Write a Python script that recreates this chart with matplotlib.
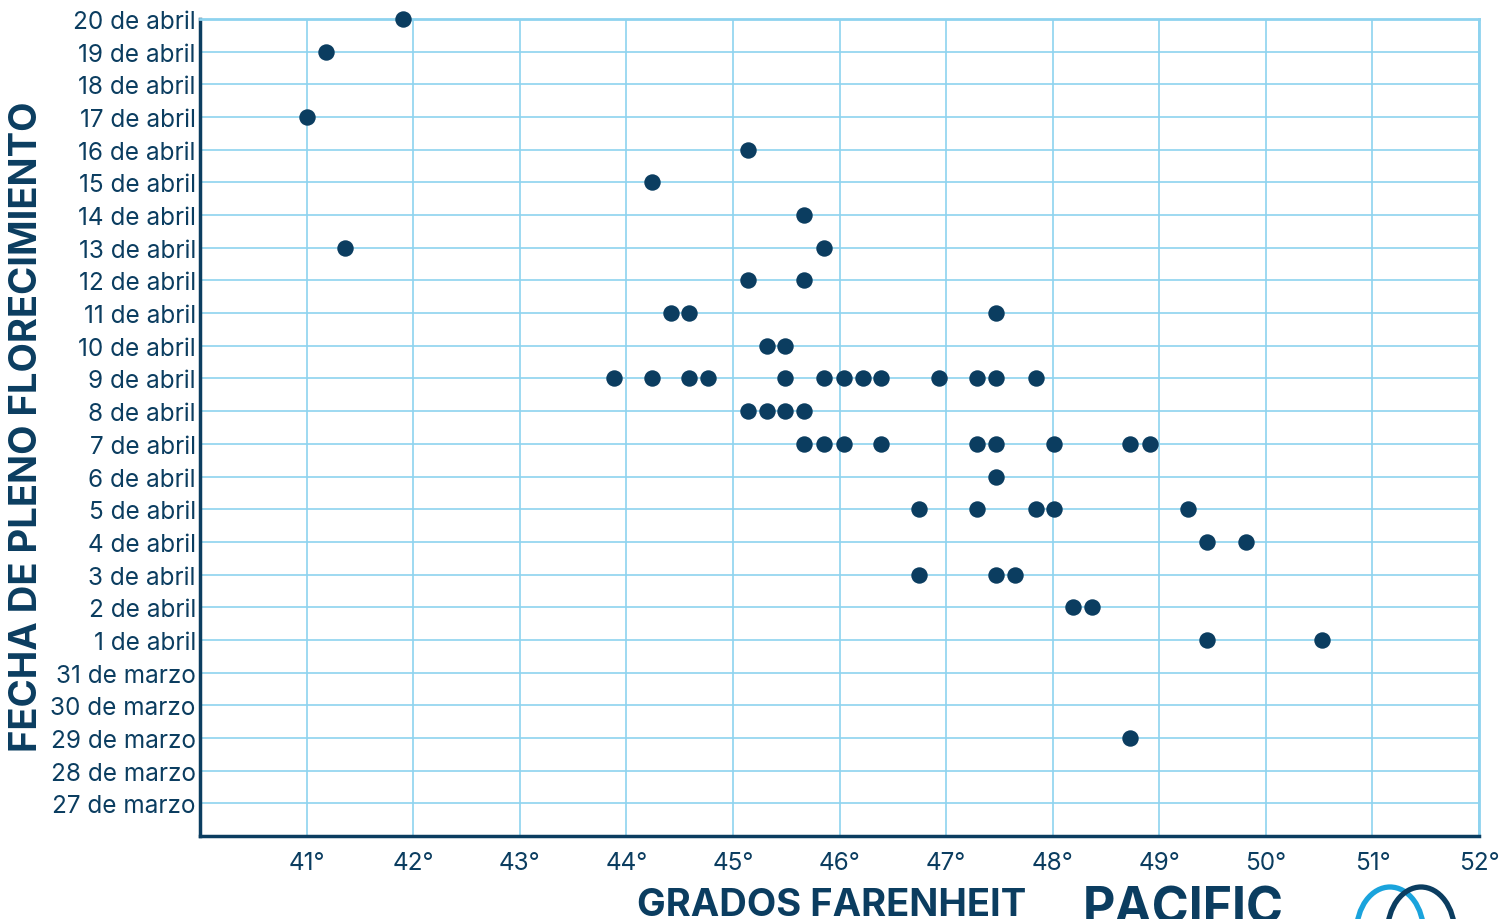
import numpy as np
import matplotlib
matplotlib.use("Agg")
import matplotlib.pyplot as plt
from matplotlib.patches import Arc

# dias: 1..20 = abril, -4..0 = 27..31 de marzo
etiquetas_dias = ["27 de marzo", "28 de marzo", "29 de marzo", "30 de marzo", "31 de marzo"] + \
    [f"{d} de abril" for d in range(1, 21)]
valores_dias = list(range(-4, 21))

grados = [
    41.9, 41.18, 41.0, 45.14, 44.24, 45.67, 41.36, 45.85, 45.14, 45.67,
    44.42, 44.59, 47.47, 45.32, 45.49,
    43.88, 44.24, 44.59, 44.77, 45.49, 45.85, 46.04, 46.22, 46.39, 46.93, 47.29, 47.47, 47.84,
    45.14, 45.32, 45.49, 45.67,
    45.67, 45.85, 46.04, 46.39, 47.29, 47.47, 48.01, 48.73, 48.91,
    47.47,
    46.75, 47.29, 47.84, 48.01, 49.27,
    49.45, 49.81,
    46.75, 47.47, 47.65,
    48.19, 48.37,
    49.45, 50.53,
    48.73,
]
dias = [
    20, 19, 17, 16, 15, 14, 13, 13, 12, 12,
    11, 11, 11, 10, 10,
    9, 9, 9, 9, 9, 9, 9, 9, 9, 9, 9, 9, 9,
    8, 8, 8, 8,
    7, 7, 7, 7, 7, 7, 7, 7, 7,
    6,
    5, 5, 5, 5, 5,
    4, 4,
    3, 3, 3,
    2, 2,
    1, 1,
    -2,
]
ticks_x = list(range(41, 53))

AZUL = "#0b3d60"
CELESTE = "#8ed3ef"
FUENTE = ["Inter", "DejaVu Sans"]

plt.rcParams['font.family'] = FUENTE

fig = plt.figure(figsize=(14.99, 9.2), dpi=100)
ax = fig.add_axes([200 / 1499, 1 - 837 / 920, 1279 / 1499, 817 / 920])

ax.scatter(grados, dias, s=140, color=AZUL, zorder=3, clip_on=False, linewidths=0)

ax.set_xlim(40, 52)
ax.set_ylim(-5, 20)
ax.set_xticks(ticks_x)
ax.set_xticklabels([f"{t}°" for t in ticks_x])
ax.set_yticks(valores_dias)
ax.set_yticklabels(etiquetas_dias)
ax.grid(True, color=CELESTE, linewidth=1.2, zorder=0)
ax.set_axisbelow(True)
ax.tick_params(length=0, colors=AZUL, labelsize=17.5)
ax.tick_params(axis="x", pad=11)
ax.tick_params(axis="y", pad=3)

for s in ["left", "bottom"]:
    ax.spines[s].set_color(AZUL)
    ax.spines[s].set_linewidth(2.5)
for s in ["top", "right"]:
    ax.spines[s].set_color(CELESTE)
    ax.spines[s].set_linewidth(2)

fig.text(27 / 1499, 1 - 427 / 920, "FECHA DE PLENO FLORECIMIENTO", rotation=90,
         ha="center", va="center", fontsize=27.5, fontweight="bold", color=AZUL)
fig.text(832 / 1499, 1 - 906 / 920, "GRADOS FARENHEIT", ha="center", va="center",
         fontsize=27.5, fontweight="bold", color=AZUL)
fig.text(1183 / 1499, 1 - 910 / 920, "PACIFIC", ha="center", va="center",
         fontsize=36, fontweight="bold", color=AZUL)

# logo
for cx, col in [(1390, "#1aa3dc"), (1421, AZUL)]:
    fig.patches.append(Arc((cx, 920 - 933), 67, 90, theta1=0, theta2=180,
                           transform=None, color=col, linewidth=3.8))

fig.savefig("out.png", dpi=100)
